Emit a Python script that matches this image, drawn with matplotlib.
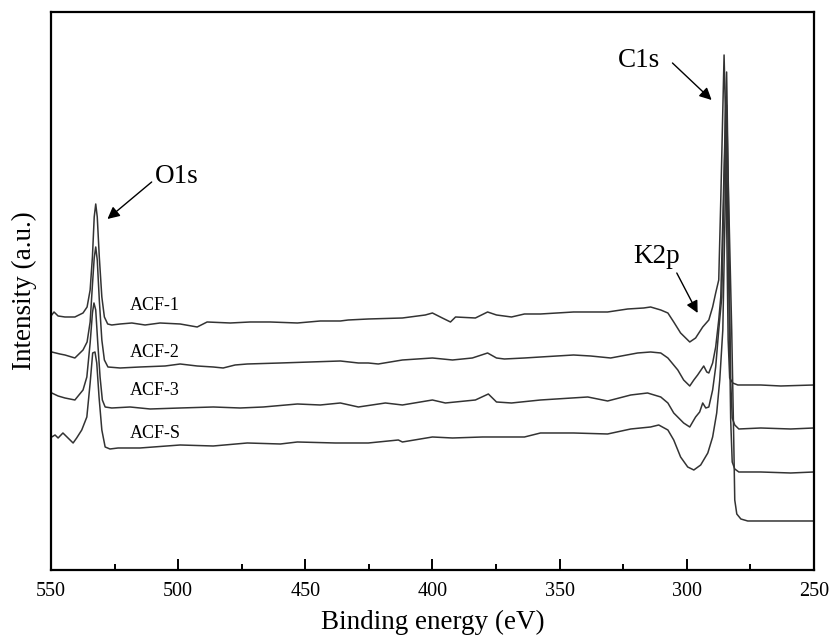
import matplotlib
matplotlib.use("Agg")
import matplotlib.pyplot as plt
from matplotlib.ticker import MultipleLocator

plt.rcParams['font.family'] = ['Liberation Serif', 'DejaVu Serif']

# XPS survey spectra (binding energy in eV, offset intensity in a.u.)
acf1_be = [549.7, 548.8, 547.2, 544.5, 540.6, 537.4, 535.8, 534.6, 533.7, 533.0, 532.4, 531.8, 531.0, 530.0,
           529.0, 527.7, 526.1, 522.8, 518.2, 513.0, 507.1, 499.2, 492.5, 488.6, 479.5, 471.7, 463.8, 453.1,
           444.1, 436.2, 433.1, 425.2, 411.8, 402.8, 400.0, 396.1, 392.9, 390.9, 383.1, 378.3, 374.8, 368.9,
           363.8, 357.5, 344.5, 331.1, 323.2, 316.9, 314.2, 310.2, 307.4, 305.1, 302.4, 298.8, 296.5, 293.7,
           291.3, 289.8, 288.6, 287.4, 286.6, 285.8, 285.3, 284.8, 284.3, 283.7, 283.1, 281.9, 279.9, 270.9,
           263.0, 250.0]
acf1_int = [255, 258, 254, 253, 253, 257, 263, 280, 313, 353, 366, 353, 313, 273,
            253, 246, 245, 246, 247, 245, 247, 246, 243, 248, 247, 248, 248, 247,
            249, 249, 250, 251, 252, 255, 257, 252, 248, 253, 252, 258, 255, 253,
            256, 256, 258, 258, 261, 262, 263, 260, 257, 248, 237, 228, 232, 243,
            250, 263, 277, 290, 370, 460, 515, 460, 350, 230, 192, 187, 185, 185,
            184, 185]

acf2_be = [549.7, 546.5, 544.5, 540.6, 537.4, 535.8, 534.6, 533.7, 533.0, 532.4, 531.8, 531.0, 530.0, 529.0,
           527.6, 522.8, 515.0, 505.1, 499.2, 492.5, 486.2, 482.3, 477.6, 472.8, 459.8, 448.0, 436.2, 429.1,
           425.2, 421.3, 411.8, 400.0, 392.1, 384.3, 378.3, 374.8, 371.7, 363.8, 357.5, 344.5, 337.8, 329.9,
           319.3, 314.2, 310.2, 307.4, 303.5, 301.2, 298.8, 297.2, 295.7, 294.9, 293.3, 292.1, 291.3, 289.8,
           288.6, 287.4, 286.6, 285.8, 285.0, 284.3, 283.9, 283.3, 282.7, 282.1, 281.1, 279.5, 270.9, 259.1,
           250.0]
acf2_int = [218, 216, 215, 212, 220, 228, 248, 285, 312, 323, 310, 270, 230, 210,
            203, 202, 203, 204, 206, 204, 203, 202, 205, 206, 207, 208, 209, 207,
            207, 206, 210, 212, 210, 212, 217, 212, 211, 212, 213, 215, 214, 212,
            217, 218, 217, 212, 200, 190, 184, 190, 195, 198, 204, 198, 197, 207,
            223, 250, 273, 350, 430, 498, 430, 310, 190, 152, 145, 141, 142, 141,
            142]

acf3_be = [549.7, 547.2, 544.5, 540.6, 537.4, 535.9, 534.6, 533.7, 533.1, 532.4, 531.6, 530.7, 529.8, 528.7,
           526.1, 518.9, 511.0, 499.2, 486.2, 475.6, 466.5, 453.1, 444.1, 436.2, 429.1, 418.5, 411.8, 400.0,
           394.9, 383.1, 378.0, 374.8, 368.9, 357.5, 338.9, 331.1, 322.0, 315.4, 310.2, 307.4, 305.1, 301.2,
           298.8, 297.2, 296.5, 294.9, 293.7, 292.5, 291.3, 289.8, 288.6, 287.4, 286.2, 285.6, 285.0, 284.6,
           284.3, 283.5, 282.7, 282.1, 281.1, 279.5, 270.9, 259.1, 250.0]
acf3_int = [177, 174, 172, 170, 180, 193, 227, 257, 267, 260, 227, 193, 170, 163,
            162, 163, 161, 162, 163, 162, 163, 166, 165, 167, 163, 167, 165, 170,
            167, 170, 176, 168, 167, 170, 173, 169, 175, 177, 173, 167, 157, 147,
            143, 150, 153, 158, 167, 162, 163, 180, 203, 240, 273, 350, 420, 473,
            420, 290, 150, 108, 101, 98, 98, 97, 98]

acfs_be = [549.7, 548.4, 547.2, 545.3, 543.3, 541.3, 539.9, 537.9, 535.9, 534.6, 533.6, 532.7, 532.0, 531.1,
           530.0, 528.7, 526.8, 523.6, 515.0, 499.2, 486.2, 472.8, 459.8, 453.1, 438.2, 425.2, 413.4, 411.8,
           400.0, 392.1, 380.3, 374.8, 363.8, 357.5, 344.5, 331.1, 322.0, 314.2, 311.0, 307.4, 305.1, 302.4,
           299.6, 297.2, 294.5, 291.7, 289.8, 288.2, 287.0, 285.8, 285.2, 284.6, 284.3, 283.5, 282.3, 281.5,
           281.1, 280.3, 278.7, 276.0, 263.0, 250.0]
acfs_int = [133, 135, 132, 137, 132, 127, 132, 140, 153, 187, 217, 218, 207, 173,
            140, 123, 121, 122, 122, 125, 124, 127, 126, 128, 127, 127, 130, 128,
            133, 132, 133, 133, 133, 137, 137, 136, 141, 143, 145, 140, 130, 113,
            103, 100, 105, 117, 133, 157, 190, 240, 320, 400, 465, 370, 240, 130,
            70, 56, 51, 49, 49, 49]

series = [
    ("ACF-1", acf1_be, acf1_int),
    ("ACF-2", acf2_be, acf2_int),
    ("ACF-3", acf3_be, acf3_int),
    ("ACF-S", acfs_be, acfs_int),
]
sample_label_y = [260, 213, 175, 132]
x_ticks = [550, 500, 450, 400, 350, 300, 250]

fig = plt.figure(figsize=(8.33, 6.38), dpi=100)
ax = fig.add_axes([0.0612, 0.1066, 0.9158, 0.8746])

for (name, be, inten), ly in zip(series, sample_label_y):
    ax.plot(be, inten, color='#333333', lw=1.1)
    ax.text(518.9, ly, name, fontsize=13, ha='left', va='baseline')

ax.set_xlim(550, 250)
ax.set_ylim(0, 558)
ax.set_xticks(x_ticks)
ax.xaxis.set_minor_locator(MultipleLocator(25))
ax.set_yticks([])
ax.tick_params(axis='x', which='major', direction='in', length=8, width=1.4,
               labelsize=14.5, pad=9)
ax.tick_params(axis='x', which='minor', direction='in', length=4.5, width=1.4)
for sp in ax.spines.values():
    sp.set_linewidth(1.6)

ax.set_xlabel('Binding energy (eV)', fontsize=19.5, labelpad=6)
ax.set_ylabel('Intensity (a.u.)', fontsize=19.5, labelpad=10)

arrow = dict(arrowstyle='-|>', color='black', lw=1.0, mutation_scale=18,
             shrinkA=0, shrinkB=0)
ax.text(509.1, 387, 'O1s', fontsize=19.5, ha='left', va='baseline')
ax.annotate('', xy=(527.8, 351), xytext=(510.4, 388), arrowprops=arrow)
ax.text(327.2, 503, 'C1s', fontsize=19.5, ha='left', va='baseline')
ax.annotate('', xy=(290.2, 470), xytext=(305.6, 507), arrowprops=arrow)
ax.text(320.9, 307, 'K2p', fontsize=19.5, ha='left', va='baseline')
ax.annotate('', xy=(295.7, 257), xytext=(303.9, 297), arrowprops=arrow)

fig.savefig('out.png', dpi=100)
